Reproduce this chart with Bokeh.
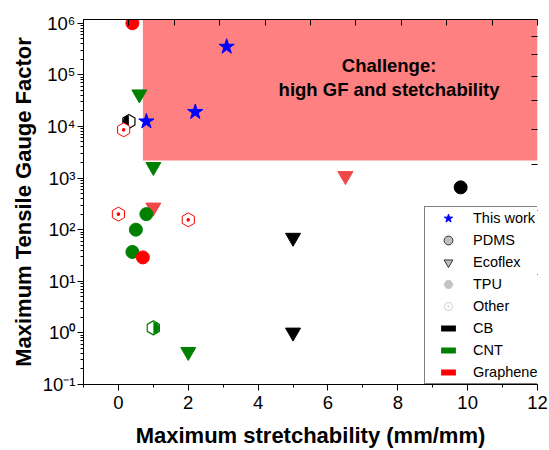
import numpy as np
from bokeh.plotting import figure
from bokeh.models import (Range1d, LinearAxis, FixedTicker, CustomJSTickFormatter,
                          Legend, LegendItem)
from bokeh.core.properties import value
from bokeh.embed import file_html
from bokeh.resources import INLINE

# ---------------- data ----------------
this_work_x = [0.8, 2.2, 3.1]
this_work_y = [1.25e4, 1.9e4, 3.5e5]

pdms_cb_x = [9.8]
pdms_cb_y = [660]
pdms_cnt_x = [0.8, 0.5, 0.4]
pdms_cnt_y = [200, 100, 37]
pdms_gr_x = [0.4, 0.7]
pdms_gr_y = [1.0e6, 29]

eco_cb_x = [5.0, 5.0]
eco_cb_y = [70, 1.02]
eco_cnt_x = [0.6, 1.0, 2.0]
eco_cnt_y = [4.2e4, 1.65e3, 0.43]
eco_gr_x = [1.0, 6.5]
eco_gr_y = [270, 1.1e3]

tpu_cb_x = [0.3]
tpu_cb_y = [1.25e4]
tpu_cnt_x = [1.0]
tpu_cnt_y = [1.25]

other_gr_x = [0.15, 0.0, 2.0]
other_gr_y = [8.6e3, 200, 155]

challenge_x = [0.7, 12]
challenge_y = [2.2e3, 1.18e6]
challenge_text = ["Challenge:\nhigh GF and stetchability"]
challenge_pos_x = [7.75]
challenge_pos_y = [8.9e4]

x_range = (-1, 12)
y_range = (0.1, 1.18e6)
x_ticks = [0, 2, 4, 6, 8, 10, 12]
x_minor = [-1, 1, 3, 5, 7, 9, 11]
y_exponents = [-1, 0, 1, 2, 3, 4, 5, 6]

legend_labels = ["This work", "PDMS", "Ecoflex", "TPU", "Other", "CB", "CNT", "Graphene"]

# colours
BLUE = "#0000FF"
GREEN = "#008000"
RED = "#FF0000"
RED_T = "#F04848"
BLACK = "#000000"
PINK = "#FF8080"
FONT = "Liberation Sans"

p = figure(width=549, height=450, output_backend="svg", toolbar_location=None,
           x_range=Range1d(*x_range), y_range=Range1d(*y_range), y_axis_type="log",
           min_border_left=83, min_border_right=12, min_border_top=19, min_border_bottom=66,
           background_fill_color="white", border_fill_color="white")
p.outline_line_color = None
p.grid.visible = False

# challenge region
p.quad(left=[challenge_x[0]], right=[challenge_x[1]], bottom=[challenge_y[0]], top=[challenge_y[1]],
       fill_color=PINK, line_color=None)
p.text(x=challenge_pos_x, y=challenge_pos_y, text=challenge_text,
       text_font=value(FONT), text_font_style="bold", text_font_size=value("18.5px"),
       text_align="center", text_baseline="middle", text_line_height=1.15, text_color="black")

TRI = 15
CIR = 13
HEX = 14

# Ecoflex (inverted triangles)
p.scatter(eco_cb_x, eco_cb_y, marker="inverted_triangle", size=TRI, fill_color=BLACK, line_color=BLACK)
p.scatter(eco_cnt_x, eco_cnt_y, marker="inverted_triangle", size=TRI, fill_color=GREEN, line_color=GREEN)
p.scatter(eco_gr_x, eco_gr_y, marker="inverted_triangle", size=TRI, fill_color=RED_T, line_color=RED_T)

# PDMS (circles)
p.scatter(pdms_cb_x, pdms_cb_y, marker="circle", size=CIR, fill_color=BLACK, line_color=BLACK)
p.scatter(pdms_cnt_x, pdms_cnt_y, marker="circle", size=CIR, fill_color=GREEN, line_color=GREEN)
p.scatter(pdms_gr_x, pdms_gr_y, marker="circle", size=CIR, fill_color=RED, line_color=RED)

# TPU (half-filled hexagons)
p.scatter(tpu_cb_x, tpu_cb_y, marker="hex", size=HEX, angle=30, angle_units="deg",
          fill_color="white", line_color=BLACK, line_width=1.2)
p.wedge(tpu_cb_x, tpu_cb_y, radius=6, radius_units="screen", start_angle=90, end_angle=270,
        start_angle_units="deg", end_angle_units="deg", fill_color=BLACK, line_color=None)
p.scatter(tpu_cnt_x, tpu_cnt_y, marker="hex", size=HEX, angle=30, angle_units="deg",
          fill_color="white", line_color=GREEN, line_width=1.2)
p.wedge(tpu_cnt_x, tpu_cnt_y, radius=6, radius_units="screen", start_angle=-90, end_angle=90,
        start_angle_units="deg", end_angle_units="deg", fill_color=GREEN, line_color=None)

# Other (open hexagons)
p.scatter(other_gr_x, other_gr_y, marker="hex_dot", size=HEX, angle=30, angle_units="deg",
          fill_color="white", line_color=RED, line_width=1)

# This work (stars)
p.scatter(this_work_x, this_work_y, marker="star", size=16, fill_color=BLUE, line_color=BLUE)

# ---------------- axes ----------------
def style_axis(ax):
    ax.axis_line_color = "black"
    ax.axis_line_width = 1
    ax.major_tick_line_color = "black"
    ax.minor_tick_line_color = "black"
    ax.major_label_text_color = "black"
    ax.major_label_text_font = FONT
    ax.major_label_text_font_size = "18.5px"
    ax.axis_label_text_font = FONT
    ax.axis_label_text_font_style = "bold"
    ax.axis_label_text_font_size = "22px"
    ax.axis_label_text_color = "black"

xa = p.xaxis[0]
style_axis(xa)
xa.ticker = FixedTicker(ticks=x_ticks, minor_ticks=x_minor)
xa.axis_label = "Maximum stretchability (mm/mm)"
xa.major_tick_out = 6
xa.major_tick_in = 0
xa.minor_tick_out = 3
xa.minor_tick_in = 0
xa.major_label_standoff = 5
xa.axis_label_standoff = 11

ya = p.yaxis[0]
style_axis(ya)
y_major = [10.0 ** e for e in y_exponents]
y_minor = [k * 10.0 ** e for e in y_exponents[:-1] for k in range(2, 10)]
ya.ticker = FixedTicker(ticks=y_major, minor_ticks=y_minor)
ya.formatter = CustomJSTickFormatter(code="""
const e = Math.round(Math.log10(tick));
const m = {'-':'\u207B','0':'\u2070','1':'\u00B9','2':'\u00B2','3':'\u00B3','4':'\u2074',
           '5':'\u2075','6':'\u2076','7':'\u2077','8':'\u2078','9':'\u2079'};
return '10' + String(e).split('').map(c => m[c]).join('');
""")
ya.axis_label = "Maximum Tensile Gauge Factor"
ya.major_tick_out = 6
ya.major_tick_in = 0
ya.minor_tick_out = 3
ya.minor_tick_in = 0
ya.major_label_standoff = 2
ya.axis_label_standoff = 4

# mirrored frame axes (top and right) with inward ticks
p.extra_x_ranges = {"top": Range1d(0, 10)}
p.extra_y_ranges = {"right": Range1d(0, 10)}
empty_fmt = CustomJSTickFormatter(code="return '';")
top_ax = LinearAxis(x_range_name="top", ticker=FixedTicker(ticks=list(range(11))),
                    formatter=empty_fmt, major_tick_in=6, major_tick_out=0,
                    minor_tick_in=0, minor_tick_out=0, major_label_text_font_size="0px",
                    major_label_standoff=0, axis_line_color="black", major_tick_line_color="black")
right_ax = LinearAxis(y_range_name="right", ticker=FixedTicker(ticks=list(range(11))),
                      formatter=empty_fmt, major_tick_in=6, major_tick_out=0,
                      minor_tick_in=0, minor_tick_out=0, major_label_text_font_size="0px",
                      major_label_standoff=0, axis_line_color="black", major_tick_line_color="black")
p.add_layout(top_ax, "above")
p.add_layout(right_ax, "right")

# ---------------- legend (proxy renderers, no visible data) ----------------
nan = [np.nan]
lg_star = p.scatter(nan, nan, marker="star", fill_color=BLUE, line_color=BLUE)
lg_pdms = p.scatter(nan, nan, marker="circle", fill_color="#c0c0c0", line_color="#333333")
lg_eco = p.scatter(nan, nan, marker="inverted_triangle", fill_color="#bdbdbd", line_color="#333333")
lg_tpu = p.scatter(nan, nan, marker="hex", angle=30, angle_units="deg", fill_color="#c4c4c4",
                   line_color="#c8c8c8")
lg_other = p.scatter(nan, nan, marker="hex_dot", angle=30, angle_units="deg", fill_color="white",
                     line_color="#d0d0d0")
lg_cb = p.scatter(nan, nan, marker="dash", line_color=BLACK, line_width=6, line_cap="square")
lg_cnt = p.scatter(nan, nan, marker="dash", line_color=GREEN, line_width=6, line_cap="square")
lg_gr = p.scatter(nan, nan, marker="dash", line_color=RED, line_width=6, line_cap="square")
lg_rs = [lg_star, lg_pdms, lg_eco, lg_tpu, lg_other, lg_cb, lg_cnt, lg_gr]

legend = Legend(items=[LegendItem(label=l, renderers=[r]) for l, r in zip(legend_labels, lg_rs)],
                location=(341, 0), orientation="vertical",
                glyph_width=46, glyph_height=22, spacing=0, padding=0, margin=0,
                label_standoff=2, label_height=20, label_text_font=FONT, label_text_font_size="14.5px",
                label_text_color="black", border_line_color="black", border_line_width=1,
                background_fill_color="white", background_fill_alpha=1.0)
p.add_layout(legend, "center")

open("out.html", "w").write(file_html(p, INLINE))
